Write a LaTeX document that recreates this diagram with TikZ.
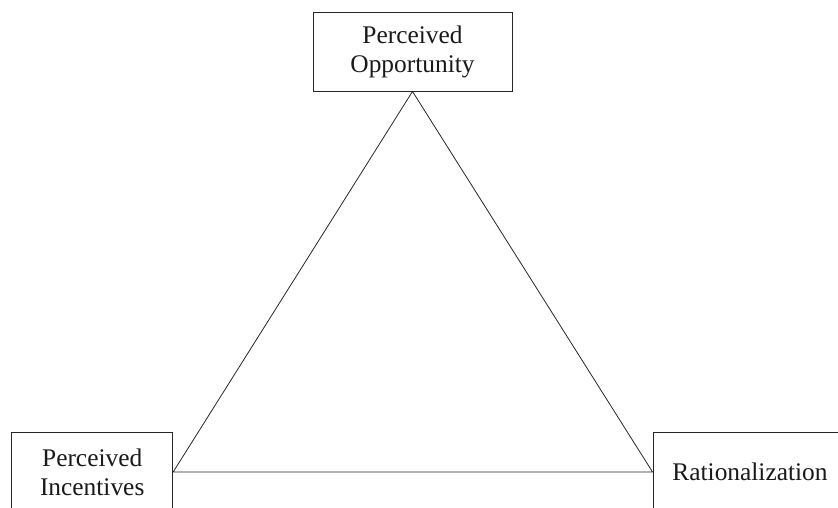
\documentclass[tikz,border=0pt]{standalone}
\usepackage{fontspec}
\setmainfont{Liberation Serif}
\begin{document}
\begin{tikzpicture}[x=1pt,y=-1pt,
  box/.style={draw=black!85, line width=0.9pt, inner sep=0pt, align=center,
    font=\fontsize{25.4}{29}\selectfont, text=black!90},
  edge/.style={draw=black!85, line width=0.8pt}]
\path[use as bounding box, clip] (0,0) rectangle (838,508);
\node[box, minimum width=199pt, minimum height=79pt] (opp) at (412.5,51.5) {Perceived\\Opportunity};
\node[box, minimum width=161pt, minimum height=80pt] (inc) at (92.2,472) {Perceived\\Incentives};
\node[box, minimum width=194pt, minimum height=80pt] (rat) at (750,472) {Rationalization};
\draw[edge] (opp.south) -- (inc.east) -- (rat.west) -- cycle;
\end{tikzpicture}
\end{document}
